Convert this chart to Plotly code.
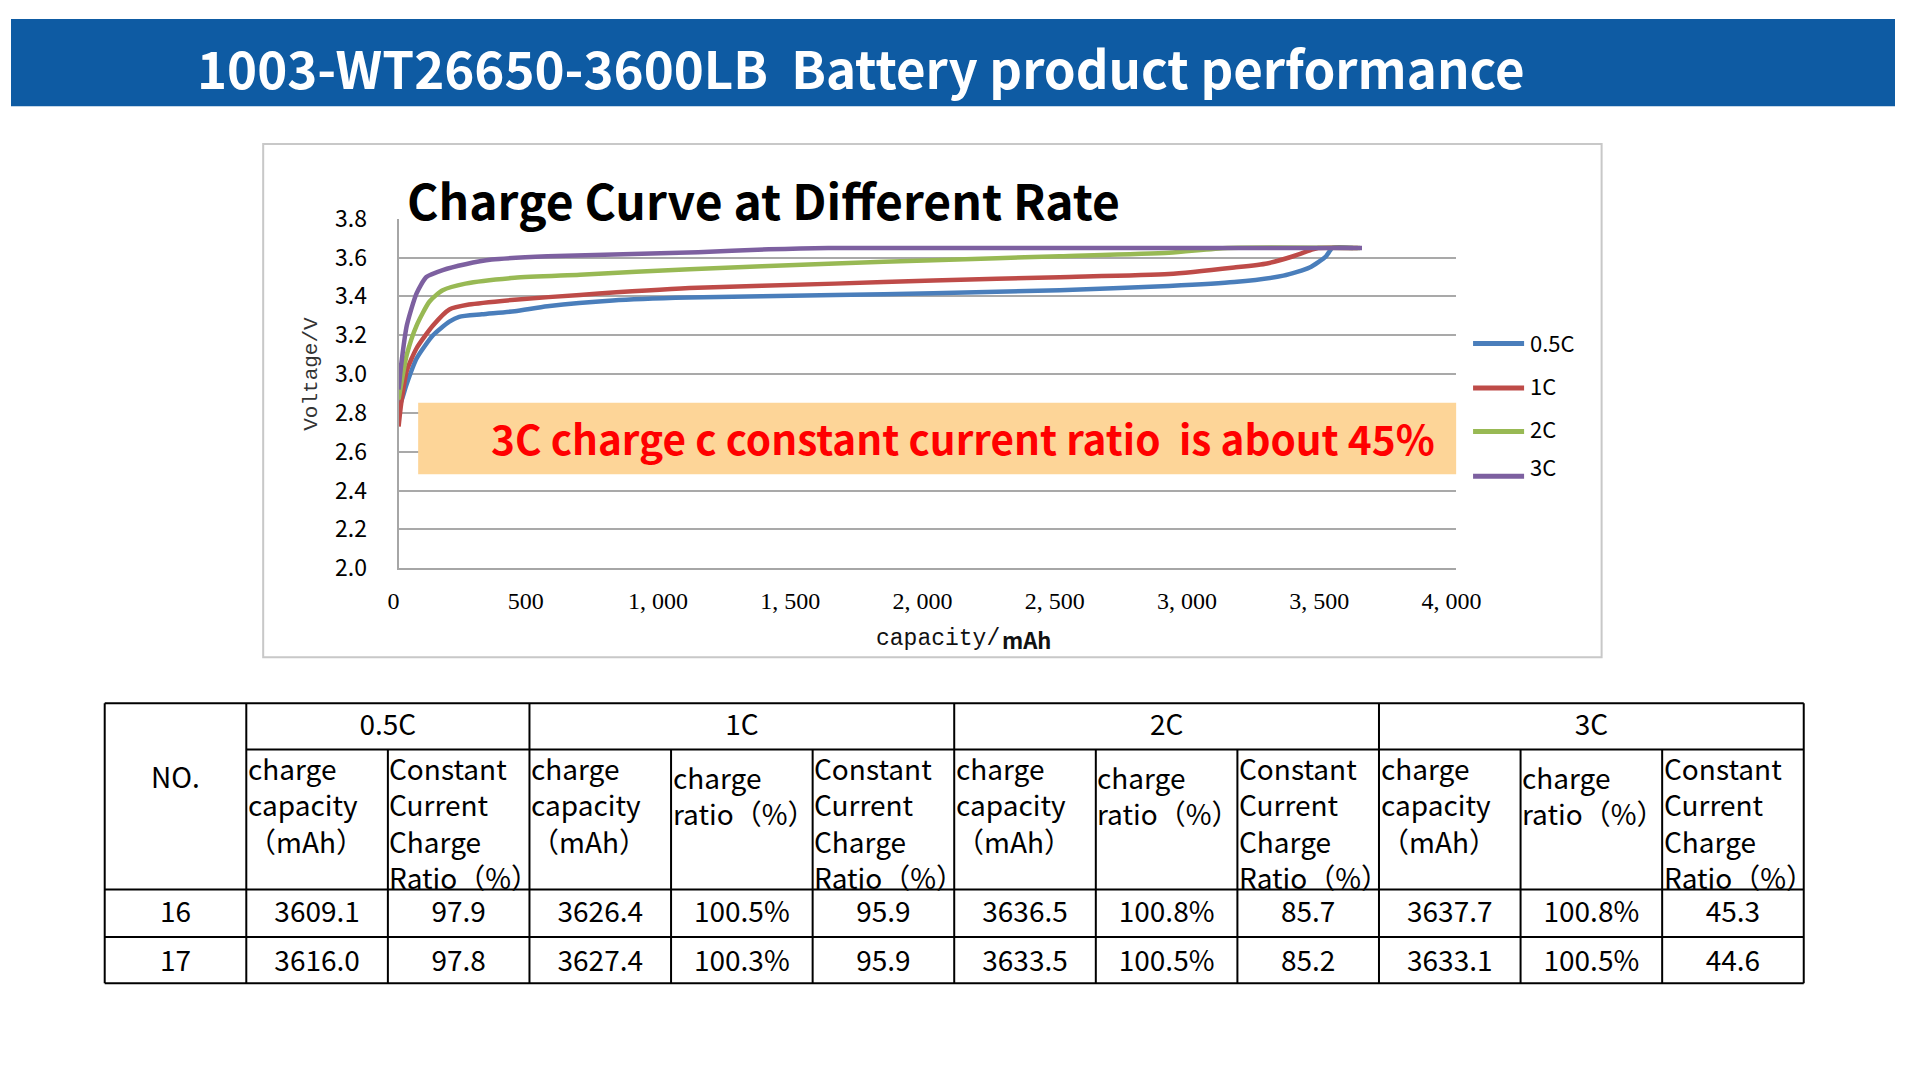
import plotly.graph_objects as go

# ---------------- data ----------------
series_names = ["0.5C", "1C", "2C", "3C"]
series_colors = ["#4A7EBB", "#BE4B48", "#98B954", "#7D60A0"]

cap_05C = [0, 15, 31, 68, 130, 192, 229, 315, 439, 563, 810, 1095, 1651, 2022, 2500, 2913, 3160, 3346, 3445, 3507, 3531, 3609]
volt_05C = [2.82, 2.88, 2.95, 3.08, 3.20, 3.27, 3.295, 3.308, 3.324, 3.349, 3.379, 3.394, 3.407, 3.416, 3.432, 3.454, 3.474, 3.507, 3.549, 3.607, 3.65, 3.65]

cap_1C = [0, 10, 31, 68, 130, 192, 266, 439, 686, 1100, 1651, 2022, 2500, 2913, 3160, 3284, 3383, 3457, 3478, 3627]
volt_1C = [2.73, 2.85, 3.017, 3.133, 3.25, 3.333, 3.358, 3.383, 3.408, 3.443, 3.466, 3.482, 3.499, 3.515, 3.549, 3.57, 3.607, 3.643, 3.65, 3.65]

cap_2C = [0, 10, 31, 68, 117, 167, 253, 439, 686, 1100, 1651, 2022, 2500, 2913, 3135, 3636]
volt_2C = [2.87, 2.95, 3.10, 3.25, 3.374, 3.432, 3.466, 3.496, 3.512, 3.54, 3.57, 3.587, 3.607, 3.625, 3.65, 3.65]

cap_3C = [0, 10, 31, 68, 105, 167, 253, 352, 563, 1132, 1400, 1625, 3643]
volt_3C = [2.92, 3.05, 3.25, 3.416, 3.50, 3.536, 3.566, 3.59, 3.607, 3.628, 3.643, 3.65, 3.65]

x_tickvals = [0, 500, 1000, 1500, 2000, 2500, 3000, 3500, 4000]
x_ticktext = ["0", "500", "1, 000", "1, 500", "2, 000", "2, 500", "3, 000", "3, 500", "4, 000"]
y_tickvals = [2.0, 2.2, 2.4, 2.6, 2.8, 3.0, 3.2, 3.4, 3.6, 3.8]

# table data
table_rates = ["0.5C", "1C", "2C", "3C"]
table_nos = ["16", "17"]
cap_05C_tab = [3609.1, 3616.0]
cc_05C_tab = [97.9, 97.8]
cap_1C_tab = [3626.4, 3627.4]
ratio_1C_tab = [100.5, 100.3]
cc_1C_tab = [95.9, 95.9]
cap_2C_tab = [3636.5, 3633.5]
ratio_2C_tab = [100.8, 100.5]
cc_2C_tab = [85.7, 85.2]
cap_3C_tab = [3637.7, 3633.1]
ratio_3C_tab = [100.8, 100.5]
cc_3C_tab = [45.3, 44.6]

hdr_cap = ["charge", "capacity", "（mAh）"]
hdr_ratio = ["charge", "ratio（%）"]
hdr_cc = ["Constant", "Current", "Charge", "Ratio（%）"]

# ---------------- helpers ----------------
W, H = 1920, 1080
def px(x):
    return x / W
def py(y):
    return 1 - y / H

SANS = "Noto Sans CJK KR"

fig = go.Figure()

curves = [(cap_05C, volt_05C), (cap_1C, volt_1C), (cap_2C, volt_2C), (cap_3C, volt_3C)]
for (cx, cy), name, col in zip(curves, series_names, series_colors):
    fig.add_trace(go.Scatter(x=cx, y=cy, mode="lines", name=name,
                             line=dict(color=col, width=4.5, shape="spline", smoothing=0.6),
                             xaxis="x", yaxis="y", showlegend=False, hoverinfo="skip"))

shapes = []
annotations = []

# header bar
shapes.append(dict(type="rect", xref="paper", yref="paper", x0=0, x1=1, y0=py(90), y1=1,
                   fillcolor="#0E5BA3", line=dict(width=0), layer="below"))
annotations.append(dict(xref="paper", yref="paper", x=px(188), y=py(50), xanchor="left", yanchor="middle",
                        text="<b>1003-WT26650-3600LB \u00a0Battery product performance</b>",
                        showarrow=False, font=dict(family=SANS, size=51, color="white")))

# chart frame
shapes.append(dict(type="rect", xref="paper", yref="paper", x0=px(257), x1=px(1621), y0=py(659), y1=py(129),
                   fillcolor="rgba(0,0,0,0)", line=dict(color="#C8C8C8", width=2), layer="below"))

# chart title
annotations.append(dict(xref="paper", yref="paper", x=px(402), y=py(186), xanchor="left", yanchor="middle",
                        text="<b>Charge Curve at Different Rate</b>", showarrow=False,
                        font=dict(family=SANS, size=48, color="black")))

# highlight box
shapes.append(dict(type="rect", xref="x", yref="y", x0=74, x1=4000, y0=2.484, y1=2.852,
                   fillcolor="#FDD598", line=dict(width=0), layer="above"))
annotations.append(dict(xref="paper", yref="paper", x=px(970), y=py(432), xanchor="center", yanchor="middle",
                        text="<b>3C charge c constant current ratio \u00a0is about 45%</b>", showarrow=False,
                        font=dict(family=SANS, size=40.5, color="#FF0000")))

# axis titles
annotations.append(dict(xref="paper", yref="paper", x=px(306), y=py(366), xanchor="center", yanchor="middle",
                        text="Voltage/V", textangle=-90, showarrow=False,
                        font=dict(family="Liberation Mono", size=21, color="#333333")))
annotations.append(dict(xref="paper", yref="paper", x=px(1010), y=py(640), xanchor="right", yanchor="middle",
                        text="capacity/", showarrow=False,
                        font=dict(family="Liberation Mono", size=23, color="#111111")))
annotations.append(dict(xref="paper", yref="paper", x=px(1008), y=py(640), xanchor="left", yanchor="middle",
                        text="<b>mAh</b>", showarrow=False,
                        font=dict(family=SANS, size=22, color="#111111")))

# manual legend
leg_line_y = [335, 381, 426, 472]
leg_text_y = [334, 378, 422, 462]
for name, col, ly, ty in zip(series_names, series_colors, leg_line_y, leg_text_y):
    shapes.append(dict(type="line", xref="paper", yref="paper", x0=px(1490), x1=px(1542), y0=py(ly), y1=py(ly),
                       line=dict(color=col, width=5), layer="above"))
    annotations.append(dict(xref="paper", yref="paper", x=px(1546), y=py(ty), xanchor="left", yanchor="middle",
                            text=name, showarrow=False, font=dict(family=SANS, size=22, color="black")))

# ---------------- table ----------------
COLW = (1827 - 95.5) / 12
TBL_H = 289
row_grp = 47.8
row_hdr = 192.3
row_1 = 241.3
TFS = 28

def tline(x0, y0, x1, y1):
    shapes.append(dict(type="line", xref="x2", yref="y2", x0=x0, y0=y0, x1=x1, y1=y1,
                       line=dict(color="black", width=2), layer="above"))

tline(0, 0, 12, 0)
tline(0, TBL_H, 12, TBL_H)
tline(1, row_grp, 12, row_grp)
tline(0, row_hdr, 12, row_hdr)
tline(0, row_1, 12, row_1)
group_bounds = [0, 1, 3, 6, 9, 12]
for c in range(13):
    if c in group_bounds:
        tline(c, 0, c, TBL_H)
    else:
        tline(c, row_grp, c, TBL_H)

# group headers
grp_x = [(1 + 3) / 2, (3 + 6) / 2, (6 + 9) / 2, (9 + 12) / 2]
fig.add_trace(go.Scatter(x=grp_x + [0.5], y=[26] * 4 + [80], mode="text",
                         text=table_rates + ["NO."], textposition="middle center",
                         textfont=dict(family=SANS, size=TFS, color="black"),
                         xaxis="x2", yaxis="y2", showlegend=False, hoverinfo="skip", cliponaxis=False))

# column sub-headers (one multi-line label per cell)
col_headers = [hdr_cap, hdr_cc, hdr_cap, hdr_ratio, hdr_cc, hdr_cap, hdr_ratio, hdr_cc, hdr_cap, hdr_ratio, hdr_cc]
hdr_center = {3: 104.5, 2: 95, 4: 123}
for i, hdr in enumerate(col_headers):
    c = i + 1
    annotations.append(dict(xref="x2", yref="y2", x=c + 0.004, y=hdr_center[len(hdr)], xanchor="left",
                            yanchor="middle", align="left", text="<br>".join(hdr), showarrow=False,
                            borderpad=0, font=dict(family=SANS, size=TFS, color="black")))

# cell values
def f1(v):
    return f"{v:.1f}"
def fp(v):
    return f"{v:.1f}%"

columns = [
    [str(n) for n in table_nos],
    [f1(v) for v in cap_05C_tab], [f1(v) for v in cc_05C_tab],
    [f1(v) for v in cap_1C_tab], [fp(v) for v in ratio_1C_tab], [f1(v) for v in cc_1C_tab],
    [f1(v) for v in cap_2C_tab], [fp(v) for v in ratio_2C_tab], [f1(v) for v in cc_2C_tab],
    [f1(v) for v in cap_3C_tab], [fp(v) for v in ratio_3C_tab], [f1(v) for v in cc_3C_tab],
]
row_y = [219, 269]
cx_list, cy_list, ct_list = [], [], []
for c, vals in enumerate(columns):
    for r, v in enumerate(vals):
        cx_list.append(c + 0.5)
        cy_list.append(row_y[r])
        ct_list.append(v)
fig.add_trace(go.Scatter(x=cx_list, y=cy_list, mode="text", text=ct_list, textposition="middle center",
                         textfont=dict(family=SANS, size=TFS, color="black"),
                         xaxis="x2", yaxis="y2", showlegend=False, hoverinfo="skip", cliponaxis=False))

fig.update_layout(
    width=W, height=H, margin=dict(l=0, r=0, t=0, b=0), autosize=False,
    paper_bgcolor="white", plot_bgcolor="white", showlegend=False,
    xaxis=dict(domain=[px(395), px(1473)], range=[0, 4000], tickvals=x_tickvals, ticktext=x_ticktext,
               showgrid=False, zeroline=False, showline=True, linecolor="#A6A6A6", linewidth=2,
               ticks="", tickfont=dict(family="Liberation Serif", size=24, color="black"),
               ticklabelstandoff=10, ticklabelshift=-5, anchor="y", fixedrange=True),
    yaxis=dict(domain=[py(567), py(206.3)], range=[2.0, 3.8], tickvals=y_tickvals, tickformat=".1f",
               showgrid=True, gridcolor="#A9A9A9", gridwidth=2, zeroline=False,
               showline=True, linecolor="#A6A6A6", linewidth=2, ticks="",
               tickfont=dict(family=SANS, size=23, color="black"), ticklabelstandoff=25,
               anchor="x", fixedrange=True),
    xaxis2=dict(domain=[px(90), px(1832)], range=[-5.5 / COLW, 12 + 5 / COLW], visible=False,
                anchor="y2", fixedrange=True),
    yaxis2=dict(domain=[py(1000), py(702)], range=[293.5, -4.5], visible=False,
                anchor="x2", fixedrange=True),
    shapes=shapes, annotations=annotations,
)

fig.write_html("out.html",
               post_script="document.documentElement.style.margin='0';document.body.style.margin='0';"
                           "document.body.style.overflow='hidden';document.documentElement.style.overflow='hidden';")
